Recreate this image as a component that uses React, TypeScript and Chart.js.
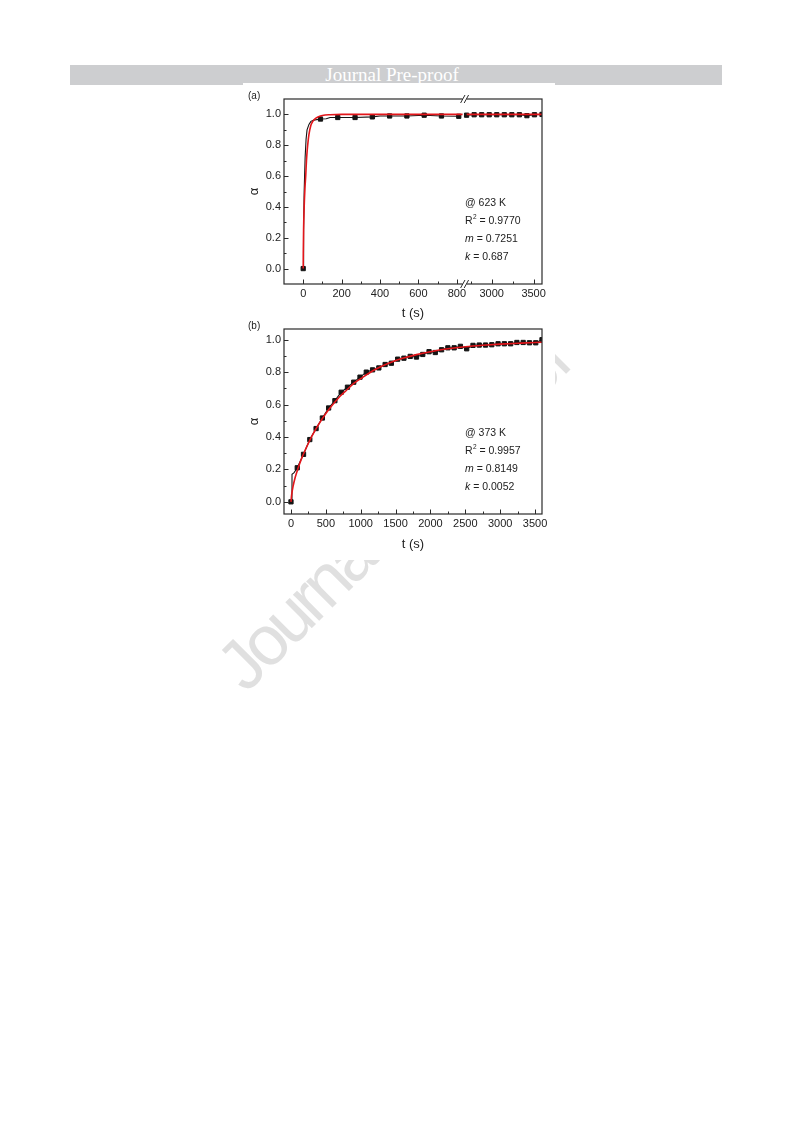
import React, { useEffect, useRef } from "react";
import { Chart, LinearScale, registerables } from "chart.js";

Chart.register(...registerables);

const FONT = '"Liberation Sans", Arial, Helvetica, sans-serif';
const INK = "#222222";
const FRAME = "#2a2a2a";
const FIT_RED = "#e3161b";
const MEAS_BLACK = "#141414";
const MARK_STEP = 90; // squares every 90 s on the measured curve

// ---------- (a) 623 K ----------
const A_MEAS_T = [0, 2, 5, 10, 15, 20, 30, 40, 55, 90, 120, 140, 180, 270, 360, 400, 450, 540, 630, 720, 810, 1800, 2700, 2790, 2880, 2970, 3060, 3150, 3240, 3330, 3420, 3510, 3600];
const A_MEAS_ALPHA = [0, 0.25, 0.5, 0.72, 0.84, 0.9, 0.935, 0.955, 0.963, 0.97, 0.972, 0.98, 0.98, 0.98, 0.984, 0.99, 0.99, 0.99, 0.995, 0.99, 0.988, null, 0.995, 0.998, 0.998, 0.998, 0.998, 0.998, 0.998, 0.998, 0.992, 0.998, 1.0];
const A_FIT_T = [0, 0.5, 2, 5, 9, 13, 17, 21, 25, 30, 40, 50, 60, 80, 100, 140, 200, 830, 1800, 2700, 3600];
const A_FIT_ALPHA = [0, 0.1, 0.25, 0.4, 0.52, 0.6, 0.7, 0.77, 0.82, 0.87, 0.93, 0.955, 0.97, 0.985, 0.993, 0.998, 1.0, 1.0, null, 1.0, 1.0];
const A_X_MAJOR = [0, 200, 400, 600, 800, 3000, 3500];
const A_X_MINOR = [100, 300, 500, 700, 2750, 3250];
const A_X_RANGE = [-100, 3600];
const A_BREAK = [830, 2700]; // hidden interval of the time axis
const A_Y_RANGE = [-0.1, 1.1];
const A_TEMP = "623 K";
const A_R2 = "0.9770";
const A_M = "0.7251";
const A_K = "0.687";

// ---------- (b) 373 K ----------
const B_MEAS_T = [0, 14, 15, 45, 90, 180, 270, 360, 450, 540, 630, 720, 810, 900, 990, 1080, 1170, 1260, 1350, 1440, 1530, 1620, 1710, 1800, 1890, 1980, 2070, 2160, 2250, 2340, 2430, 2520, 2610, 2700, 2790, 2880, 2970, 3060, 3150, 3240, 3330, 3420, 3510, 3600];
const B_MEAS_ALPHA = [0, 0, 0.17, 0.18, 0.21, 0.293, 0.384, 0.452, 0.517, 0.579, 0.624, 0.676, 0.707, 0.738, 0.769, 0.8, 0.814, 0.826, 0.847, 0.855, 0.88, 0.886, 0.897, 0.893, 0.909, 0.926, 0.921, 0.938, 0.95, 0.95, 0.959, 0.944, 0.965, 0.967, 0.967, 0.969, 0.975, 0.975, 0.975, 0.983, 0.983, 0.981, 0.981, 1.0];
const B_FIT_T = [0, 10, 30, 60, 100, 150, 200, 300, 400, 500, 600, 700, 800, 900, 1000, 1200, 1400, 1600, 1800, 2000, 2250, 2500, 2750, 3000, 3300, 3600];
const B_FIT_ALPHA = [0, 0.045, 0.095, 0.15, 0.205, 0.265, 0.315, 0.405, 0.48, 0.545, 0.6, 0.65, 0.69, 0.73, 0.76, 0.815, 0.855, 0.885, 0.908, 0.926, 0.944, 0.957, 0.966, 0.973, 0.979, 0.984];
const B_X_MAJOR = [0, 500, 1000, 1500, 2000, 2500, 3000, 3500];
const B_X_MINOR = [250, 750, 1250, 1750, 2250, 2750, 3250];
const B_X_RANGE = [-100, 3600];
const B_Y_RANGE = [-0.075, 1.066];
const B_TEMP = "373 K";
const B_R2 = "0.9957";
const B_M = "0.8149";
const B_K = "0.0052";

const Y_MAJOR = [0, 0.2, 0.4, 0.6, 0.8, 1.0];
const Y_MINOR = [0.1, 0.3, 0.5, 0.7, 0.9];

// Share of the plot width given to the left segment and to the gap of the broken axis
const BREAK_LEFT_FRAC = 0.6922;
const BREAK_GAP_FRAC = 0.0155;

class BrokenLinearScale extends LinearScale {
  static id = "brokenLinear";

  toDecimal(v: number): number {
    const min = this.min as number;
    const max = this.max as number;
    const [lo, hi] = A_BREAK;
    const rightFrac = 1 - BREAK_LEFT_FRAC - BREAK_GAP_FRAC;
    if (v <= lo) return ((v - min) / (lo - min)) * BREAK_LEFT_FRAC;
    if (v >= hi) return BREAK_LEFT_FRAC + BREAK_GAP_FRAC + ((v - hi) / (max - hi)) * rightFrac;
    return BREAK_LEFT_FRAC + ((v - lo) / (hi - lo)) * BREAK_GAP_FRAC;
  }

  getPixelForValue(value: any): number {
    if (value === null || value === undefined || isNaN(value)) return NaN;
    return this.getPixelForDecimal(this.toDecimal(+value));
  }

  getValueForPixel(pixel: number): number {
    const d = this.getDecimalForPixel(pixel);
    const min = this.min as number;
    const max = this.max as number;
    const [lo, hi] = A_BREAK;
    const rightFrac = 1 - BREAK_LEFT_FRAC - BREAK_GAP_FRAC;
    if (d <= BREAK_LEFT_FRAC) return min + (d / BREAK_LEFT_FRAC) * (lo - min);
    if (d >= BREAK_LEFT_FRAC + BREAK_GAP_FRAC)
      return hi + ((d - BREAK_LEFT_FRAC - BREAK_GAP_FRAC) / rightFrac) * (max - hi);
    return lo + ((d - BREAK_LEFT_FRAC) / BREAK_GAP_FRAC) * (hi - lo);
  }
}
Chart.register(BrokenLinearScale as any);

Chart.defaults.font.family = FONT;
Chart.defaults.color = INK;

type Run = { t: string; italic?: boolean; sup?: boolean };

function noteLines(temp: string, r2: string, m: string, k: string): Run[][] {
  return [
    [{ t: "@ " + temp }],
    [{ t: "R" }, { t: "2", sup: true }, { t: " = " + r2 }],
    [{ t: "m", italic: true }, { t: " = " + m }],
    [{ t: "k", italic: true }, { t: " = " + k }],
  ];
}

type Deco = {
  panel: string;
  xMajor: number[];
  xMinor: number[];
  notes: Run[][];
  breakAt?: number[];
};

function decoPlugin(cfg: Deco) {
  return {
    id: "deco",
    afterDraw(chart: any) {
      const { ctx, chartArea } = chart;
      const { left, right, top, bottom } = chartArea;
      const xs = chart.scales.x;
      const ys = chart.scales.y;
      ctx.save();
      // frame
      ctx.strokeStyle = FRAME;
      ctx.lineWidth = 1.2;
      ctx.strokeRect(left, top, right - left, bottom - top);
      // inward ticks on the bottom and left axes
      ctx.lineWidth = 1;
      ctx.beginPath();
      const xt = (vals: number[], len: number) =>
        vals.forEach((v) => {
          const p = Math.round(xs.getPixelForValue(v)) + 0.5;
          ctx.moveTo(p, bottom);
          ctx.lineTo(p, bottom - len);
        });
      const yt = (vals: number[], len: number) =>
        vals.forEach((v) => {
          const p = Math.round(ys.getPixelForValue(v)) + 0.5;
          ctx.moveTo(left, p);
          ctx.lineTo(left + len, p);
        });
      xt(cfg.xMajor, 4.5);
      xt(cfg.xMinor, 2.5);
      yt(Y_MAJOR, 4.5);
      yt(Y_MINOR, 2.5);
      ctx.stroke();
      // axis break marks
      if (cfg.breakAt) {
        const xb = (xs.getPixelForValue(cfg.breakAt[0]) + xs.getPixelForValue(cfg.breakAt[1])) / 2;
        for (const yb of [top, bottom]) {
          ctx.fillStyle = "#ffffff";
          ctx.fillRect(xb - 2, yb - 1.5, 4, 3);
          ctx.beginPath();
          for (const d of [-1.8, 1.8]) {
            ctx.moveTo(xb + d - 2.2, yb + 4);
            ctx.lineTo(xb + d + 2.2, yb - 4);
          }
          ctx.strokeStyle = FRAME;
          ctx.lineWidth = 1;
          ctx.stroke();
        }
      }
      // panel letter
      ctx.fillStyle = INK;
      ctx.textBaseline = "middle";
      ctx.textAlign = "left";
      ctx.font = `10px ${FONT}`;
      ctx.fillText(cfg.panel, 12, 8);
      // fit parameters
      const x0 = left + 181;
      cfg.notes.forEach((line, i) => {
        let x = x0;
        const y = top + 104.5 + i * 18;
        line.forEach((run) => {
          if (run.sup) {
            ctx.font = `6.5px ${FONT}`;
            ctx.fillText(run.t, x + 0.3, y - 4);
          } else {
            ctx.font = `${run.italic ? "italic " : ""}10.5px ${FONT}`;
            ctx.fillText(run.t, x, y);
          }
          x += ctx.measureText(run.t).width + (run.sup ? 0.3 : 0);
        });
      });
      ctx.restore();
    },
  };
}

function pairs(ts: number[], vs: (number | null)[]) {
  return ts.map((t, i) => ({ x: t, y: vs[i] }));
}

function markerRadius(c: any) {
  const raw = c.raw;
  if (!raw || raw.y === null) return 0;
  return raw.x % MARK_STEP === 0 ? 3 : 0;
}

function buildConfig(p: {
  xType: string;
  xRange: number[];
  yRange: number[];
  xMajor: number[];
  measT: number[];
  measA: (number | null)[];
  fitT: number[];
  fitA: (number | null)[];
  titlePad: number;
  plugin: any;
}): any {
  return {
    type: "line",
    data: {
      datasets: [
        {
          label: "fit",
          data: pairs(p.fitT, p.fitA),
          borderColor: FIT_RED,
          borderWidth: 1.6,
          pointRadius: 0,
          cubicInterpolationMode: "monotone",
          spanGaps: false,
          order: 0,
        },
        {
          label: "measured",
          data: pairs(p.measT, p.measA),
          borderColor: MEAS_BLACK,
          borderWidth: 1.1,
          pointStyle: "rect",
          pointRadius: markerRadius,
          pointBackgroundColor: MEAS_BLACK,
          pointBorderColor: MEAS_BLACK,
          pointBorderWidth: 1,
          spanGaps: false,
          order: 1,
        },
      ],
    },
    options: {
      responsive: false,
      animation: false,
      events: [],
      layout: { padding: { top: 11, right: 18, bottom: 0, left: 0 } },
      plugins: { legend: { display: false }, tooltip: { enabled: false } },
      scales: {
        x: {
          type: p.xType,
          min: p.xRange[0],
          max: p.xRange[1],
          afterBuildTicks: (s: any) => {
            s.ticks = p.xMajor.map((v) => ({ value: v }));
          },
          afterFit: (s: any) => {
            s.height = 44;
          },
          grid: { display: false, drawTicks: false },
          border: { display: false },
          ticks: {
            padding: 3.5,
            color: INK,
            autoSkip: false,
            maxRotation: 0,
            font: { size: 11 },
            callback: (v: any) => String(v),
          },
          title: {
            display: true,
            text: "t (s)",
            color: INK,
            font: { size: 13 },
            padding: { top: 0, bottom: p.titlePad },
          },
        },
        y: {
          type: "linear",
          min: p.yRange[0],
          max: p.yRange[1],
          afterBuildTicks: (s: any) => {
            s.ticks = Y_MAJOR.map((v) => ({ value: v }));
          },
          afterFit: (s: any) => {
            s.width = 48;
          },
          grid: { display: false, drawTicks: false },
          border: { display: false },
          ticks: {
            padding: 3,
            color: INK,
            font: { size: 11 },
            callback: (v: any) => Number(v).toFixed(1),
          },
          title: {
            display: true,
            text: "α",
            color: INK,
            font: { size: 13 },
            padding: { top: 10.2, bottom: 0 },
          },
        },
      },
    },
    plugins: [p.plugin],
  };
}

function Panel({ top, config }: { top: number; config: () => any }) {
  const ref = useRef<HTMLCanvasElement | null>(null);
  useEffect(() => {
    if (!ref.current) return;
    const chart = new Chart(ref.current, config());
    return () => chart.destroy();
  }, []);
  return (
    <canvas
      ref={ref}
      width={324}
      height={240}
      style={{ position: "absolute", left: 236, top, width: 324, height: 240 }}
    />
  );
}

const configA = () =>
  buildConfig({
    xType: "brokenLinear",
    xRange: A_X_RANGE,
    yRange: A_Y_RANGE,
    xMajor: A_X_MAJOR,
    measT: A_MEAS_T,
    measA: A_MEAS_ALPHA,
    fitT: A_FIT_T,
    fitA: A_FIT_ALPHA,
    titlePad: 7,
    plugin: decoPlugin({
      panel: "(a)",
      xMajor: A_X_MAJOR,
      xMinor: A_X_MINOR,
      notes: noteLines(A_TEMP, A_R2, A_M, A_K),
      breakAt: A_BREAK,
    }),
  });

const configB = () =>
  buildConfig({
    xType: "linear",
    xRange: B_X_RANGE,
    yRange: B_Y_RANGE,
    xMajor: B_X_MAJOR,
    measT: B_MEAS_T,
    measA: B_MEAS_ALPHA,
    fitT: B_FIT_T,
    fitA: B_FIT_ALPHA,
    titlePad: 6,
    plugin: decoPlugin({
      panel: "(b)",
      xMajor: B_X_MAJOR,
      xMinor: B_X_MINOR,
      notes: noteLines(B_TEMP, B_R2, B_M, B_K),
    }),
  });

export default function App() {
  return (
    <div
      style={{
        position: "absolute",
        left: 0,
        top: 0,
        width: 793,
        height: 1123,
        background: "#ffffff",
        overflow: "hidden",
      }}
    >
      <svg
        width={793}
        height={1123}
        style={{ position: "absolute", left: 0, top: 0 }}
      >
        <text
          x={246}
          y={694}
          transform="rotate(-45 246 694)"
          fontSize={70}
          textLength={466}
          lengthAdjust="spacing"
          fill="#e0e0e0"
          fontFamily={FONT}
        >
          Journal Pre-proof
        </text>
      </svg>
      <div
        style={{
          position: "absolute",
          left: 70,
          top: 65,
          width: 652,
          height: 20,
          background: "#cdced0",
          color: "#ffffff",
          fontFamily: '"Liberation Serif", "Times New Roman", serif',
          fontSize: 19,
          lineHeight: "20px",
          textAlign: "center",
          boxSizing: "border-box",
          paddingRight: 8,
        }}
      >
        Journal Pre-proof
      </div>
      <div
        style={{
          position: "absolute",
          left: 243,
          top: 83,
          width: 312,
          height: 477,
          background: "#ffffff",
        }}
      />
      <Panel top={88} config={configA} />
      <Panel top={318} config={configB} />
    </div>
  );
}
